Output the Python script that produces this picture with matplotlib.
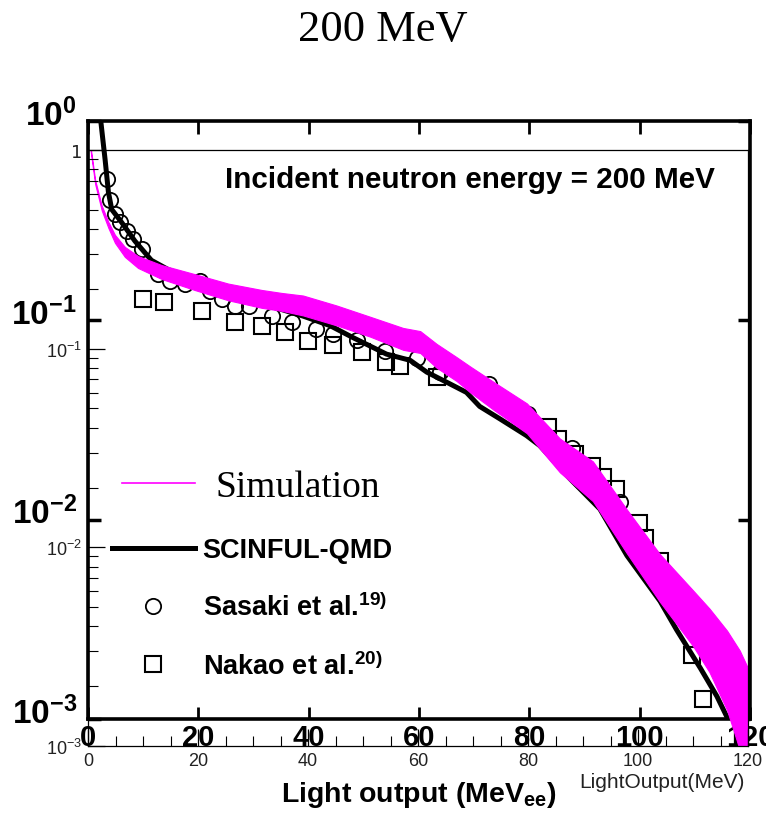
import numpy as np
import matplotlib
matplotlib.use('Agg')
import matplotlib.pyplot as plt
from matplotlib.lines import Line2D
from matplotlib.transforms import ScaledTranslation
from matplotlib.ticker import FixedLocator, LogLocator, MultipleLocator, NullFormatter

# SCINFUL-QMD calculation, light output (MeVee) vs response
scinful_L = [2.0, 2.6, 3.1, 3.7, 4.3, 6.1, 8.5, 11.5, 14.5, 17.6, 23.6, 29.7, 33.0, 39.0,
             43.9, 48.0, 54.1, 58.4, 61.4, 65.6, 68.6, 71.0, 74.7, 79.5, 81.9, 87.4,
             92.8, 97.7, 103.7, 106.7, 111.0, 114.0, 116.0]
scinful_val = [1.2, 0.85, 0.64, 0.44, 0.36, 0.31, 0.25, 0.20, 0.18, 0.166, 0.148, 0.128,
               0.118, 0.105, 0.094, 0.082, 0.0677, 0.063, 0.055, 0.048, 0.0435, 0.037,
               0.032, 0.0264, 0.0235, 0.016, 0.0113, 0.0066, 0.0039, 0.0028, 0.0018,
               0.0013, 0.0010]

# Sasaki et al. measurement
sasaki_L = [3.4, 4.0, 4.9, 5.8, 7.0, 8.2, 9.7, 12.7, 14.9, 17.6, 20.3, 22.1, 24.2, 26.6,
            29.1, 33.3, 36.9, 41.4, 44.5, 48.7, 53.8, 59.6, 63.8, 72.6, 79.8, 87.7, 96.4]
sasaki_val = [0.51, 0.40, 0.34, 0.31, 0.28, 0.256, 0.228, 0.171, 0.158, 0.152, 0.158,
              0.141, 0.128, 0.118, 0.118, 0.105, 0.098, 0.090, 0.085, 0.080, 0.070,
              0.065, 0.055, 0.048, 0.034, 0.023, 0.0122]

# Nakao et al. measurement
nakao_L = [10.0, 13.7, 20.6, 26.6, 31.5, 35.7, 39.9, 44.5, 49.6, 54.1, 56.6, 63.3, 83.4,
           85.2, 88.3, 91.3, 93.4, 95.8, 99.8, 101.0, 103.7, 107.3, 109.4, 111.5]
nakao_val = [0.128, 0.123, 0.112, 0.098, 0.094, 0.087, 0.079, 0.075, 0.0696, 0.0616,
             0.059, 0.052, 0.029, 0.0254, 0.0214, 0.0186, 0.0163, 0.0143, 0.0096,
             0.0081, 0.0062, 0.0040, 0.0021, 0.00126]

# simulation: band centre and half width of the bin scatter (decades)
sim_L = [0.5, 1.3, 2.5, 3.7, 4.9, 6.7, 9.1, 13.4, 19.5, 25.5, 31.6, 35.2, 39.1, 45.2,
         51.3, 57.3, 60.4, 63.4, 67.0, 69.5, 73.7, 79.8, 85.8, 91.8, 98.0, 104.0,
         110.0, 113.0, 116.2, 118.5, 120.0]
sim_val = [1.0, 0.69, 0.51, 0.42, 0.357, 0.307, 0.273, 0.243, 0.216, 0.193, 0.178, 0.172,
           0.165, 0.147, 0.129, 0.112, 0.108, 0.092, 0.079, 0.070, 0.058, 0.0446, 0.029,
           0.0215, 0.012, 0.007, 0.0044, 0.0034, 0.0024, 0.0017, 0.0011]
sim_spread = [0.008, 0.01, 0.012, 0.015, 0.02, 0.025, 0.03, 0.035, 0.04, 0.042, 0.045,
              0.045, 0.05, 0.05, 0.05, 0.055, 0.055, 0.06, 0.06, 0.065, 0.07, 0.075,
              0.085, 0.1, 0.11, 0.12, 0.14, 0.16, 0.2, 0.25, 0.35]

x_ticks = [0, 20, 40, 60, 80, 100, 120]
decades = [1e-3, 1e-2, 1e-1, 1e0]
scan_ylabels = [r'$\mathbf{10^{-3}}$', r'$\mathbf{10^{-2}}$', r'$\mathbf{10^{-1}}$', r'$\mathbf{10^{0}}$']
root_ylabels = [r'$10^{-3}$', r'$10^{-2}$', r'$10^{-1}$', '1']

plt.rcParams['mathtext.fontset'] = 'custom'
plt.rcParams['mathtext.rm'] = 'Liberation Sans'
plt.rcParams['mathtext.bf'] = 'Liberation Sans:bold'
plt.rcParams['mathtext.sf'] = 'Liberation Sans:bold'
SANS = 'Liberation Sans'

W, H = 766, 828
fig = plt.figure(figsize=(W / 100, H / 100), dpi=100)


def box(x0, y0, x1, y1):
    return [x0 / W, 1 - y1 / H, (x1 - x0) / W, (y1 - y0) / H]


# ---- published figure (SCINFUL-QMD + data) ----
ax = fig.add_axes(box(88, 122, 750, 720))
ax.set_xlim(0, 120)
ax.set_yscale('log')
ax.set_ylim(1e-3, 1)
for s in ax.spines.values():
    s.set_linewidth(2.6)

ax.plot(scinful_L, scinful_val, color='black', lw=3.6, solid_capstyle='round')
ax.plot(sasaki_L, sasaki_val, 'o', ms=11, mfc='none', mec='black', mew=1.3)
ax.plot(nakao_L, nakao_val, 's', ms=12, mfc='none', mec='black', mew=1.5)

ax.xaxis.set_major_locator(FixedLocator(x_ticks))
ax.set_xticklabels([str(v) for v in x_ticks], fontsize=21, fontweight='bold', family=SANS)
ax.yaxis.set_major_locator(FixedLocator(decades))
ax.yaxis.set_minor_locator(FixedLocator([]))
ax.set_yticklabels(scan_ylabels, fontsize=24)
ax.tick_params(axis='x', which='major', direction='in', top=True, length=9, width=2, pad=3)
ax.tick_params(axis='y', which='major', direction='in', right=True, length=9, width=2.5, pad=8)
# the big exponent labels sit a little above their ticks
lift = ScaledTranslation(0, 0.10, fig.dpi_scale_trans)
for lab in ax.get_yticklabels():
    lab.set_transform(lab.get_transform() + lift)

ax.set_xlabel(r'Light output (MeV$_{\mathsf{ee}}$)', family=SANS, fontweight='bold',
              fontsize=20.5, labelpad=20)
ax.text((715 - 88) / 662, (720 - 180) / 598, 'Incident neutron energy = 200 MeV',
        transform=ax.transAxes, ha='right', va='center', family=SANS,
        fontweight='bold', fontsize=21.3)

scan_handles = [Line2D([], [], color='black', lw=3.6),
                Line2D([], [], ls='none', marker='o', ms=11, mfc='none', mec='black', mew=1.3),
                Line2D([], [], ls='none', marker='s', ms=12, mfc='none', mec='black', mew=1.5)]
scan_labels = ['SCINFUL-QMD', r'Sasaki et al.$^{\mathsf{19)}}$', r'Nakao et al.$^{\mathsf{20)}}$']
ax.legend(scan_handles, scan_labels, loc='upper left',
          bbox_to_anchor=(112 / W, 1 - 538 / H), bbox_transform=fig.transFigure,
          frameon=False, borderpad=0, borderaxespad=0, handlelength=3.05,
          handletextpad=0.3, labelspacing=1.1,
          prop={'family': SANS, 'weight': 'bold', 'size': 19.5})

# ---- simulation overlay ----
ar = fig.add_axes(box(88, 151, 748, 747))
ar.patch.set_alpha(0)
ar.set_xlim(0, 120)
ar.set_yscale('log')
ar.set_ylim(1e-3, 1)
for s in ar.spines.values():
    s.set_linewidth(0.9)

mid = np.array(sim_val)
spread = np.array(sim_spread)
ar.fill_between(sim_L, mid * 10 ** -spread, mid * 10 ** spread, color='#ff00ff',
                lw=0.8, edgecolor='#ff00ff')

ar.xaxis.set_major_locator(FixedLocator(x_ticks))
ar.xaxis.set_minor_locator(MultipleLocator(5))
ar.yaxis.set_major_locator(FixedLocator(decades))
ar.yaxis.set_minor_locator(LogLocator(base=10, subs=np.arange(2, 10)))
ar.yaxis.set_minor_formatter(NullFormatter())
ar.set_xticklabels([str(v) for v in x_ticks], fontsize=13, family=SANS, color='#222222')
ar.set_yticklabels(root_ylabels, fontsize=13, color='#222222')
ar.tick_params(which='major', direction='in', length=12, width=0.9, pad=4)
ar.tick_params(which='minor', direction='in', length=7, width=0.8)
ar.tick_params(axis='x', which='both', top=False)

sim_handle = Line2D([], [], color='#ff00ff', lw=1.2)
ar.legend([sim_handle], ['Simulation'], loc='center left',
          bbox_to_anchor=(122 / W, 1 - 488 / H), bbox_transform=fig.transFigure,
          frameon=False, borderpad=0, borderaxespad=0, handlelength=1.95,
          handletextpad=0.53, prop={'family': 'Liberation Serif', 'size': 27})

fig.text(745 / W, 1 - 783 / H, 'LightOutput(MeV)', ha='right', va='center',
         family=SANS, fontsize=15, color='#222222')
fig.text(383 / W, 1 - 30 / H, '200 MeV', ha='center', va='center',
         family='Liberation Serif', fontsize=32)

fig.savefig('out.png', dpi=100)
